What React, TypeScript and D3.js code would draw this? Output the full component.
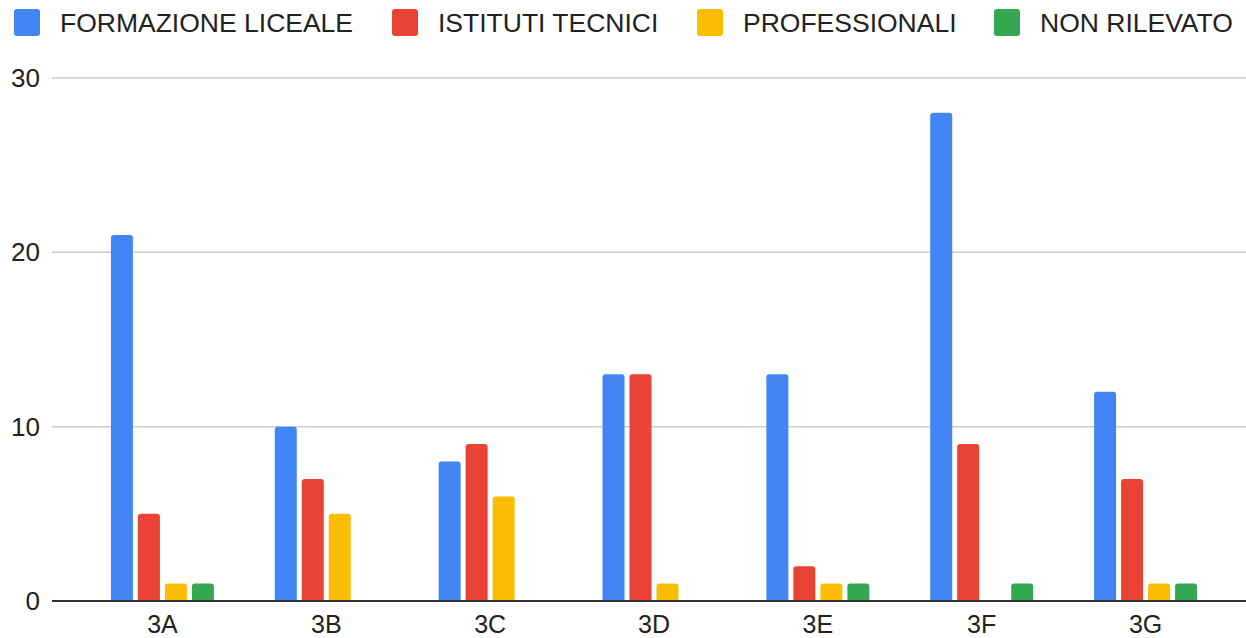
import { useMemo } from "react";
import * as d3 from "d3";

const WIDTH = 1246;
const HEIGHT = 638;

const categories = ["3A", "3B", "3C", "3D", "3E", "3F", "3G"];
const seriesNames = ["FORMAZIONE LICEALE", "ISTITUTI TECNICI", "PROFESSIONALI", "NON RILEVATO"];
const seriesColors = ["#4285F4", "#EA4335", "#FBBC04", "#34A853"];

const liceale = [21, 10, 8, 13, 13, 28, 12];
const tecnici = [5, 7, 9, 13, 2, 9, 7];
const professionali = [1, 5, 6, 1, 1, 0, 1];
const nonRilevato = [1, 0, 0, 0, 1, 1, 1];

const yTicks = [0, 10, 20, 30];

const FONT = "'Liberation Sans', Arial, sans-serif";
const LEGEND_X = [14, 392, 697, 994];

// bar path with rounded top corners
const barPath = (x: number, y: number, w: number, h: number, r: number) => {
  const rr = Math.min(r, h, w / 2);
  return `M${x},${y + h}V${y + rr}Q${x},${y} ${x + rr},${y}H${x + w - rr}Q${x + w},${y} ${x + w},${y + rr}V${y + h}Z`;
};

export default function App() {
  const series = [liceale, tecnici, professionali, nonRilevato];

  const xScale = useMemo(
    () => d3.scaleBand().domain(categories).range([80.5, 1227.5]),
    []
  );
  const subScale = useMemo(
    () => d3.scaleBand().domain(seriesNames).range([-51.5, 51.5]).paddingInner(5 / 27),
    []
  );
  const yScale = d3.scaleLinear().domain([0, 30]).range([601, 78]);

  const bars = categories.flatMap((cat, ci) =>
    series.map((vals, si) => {
      const v = vals[ci];
      if (!v) return null;
      const cx = (xScale(cat) ?? 0) + xScale.bandwidth() / 2;
      const x = cx + (subScale(seriesNames[si]) ?? 0);
      const y = yScale(v);
      return (
        <path
          key={cat + si}
          d={barPath(x, y, subScale.bandwidth(), yScale(0) - y, 3)}
          fill={seriesColors[si]}
        />
      );
    })
  );

  return (
    <svg
      width={WIDTH}
      height={HEIGHT}
      style={{ position: "absolute", left: 0, top: 0, background: "#fff" }}
      fontFamily={FONT}
    >
      {/* legend */}
      {seriesNames.map((name, i) => (
        <g key={name} transform={`translate(${LEGEND_X[i]},9)`}>
          <rect width={26} height={27} rx={3} fill={seriesColors[i]} />
          <text x={46} y={22.5} fontSize={26.5} fill="#222">
            {name}
          </text>
        </g>
      ))}

      {/* grid and y labels */}
      {yTicks.map((t) => (
        <g key={t}>
          {t !== 0 && (
            <line x1={52} x2={WIDTH} y1={yScale(t)} y2={yScale(t)} stroke="#ccc" strokeWidth={1.5} />
          )}
          <text x={40} y={yScale(t) + 9} textAnchor="end" fontSize={26} fill="#222">
            {t}
          </text>
        </g>
      ))}

      {bars}

      <line x1={52} x2={WIDTH} y1={yScale(0)} y2={yScale(0)} stroke="#333" strokeWidth={2} />

      {/* x labels */}
      {categories.map((c) => (
        <text
          key={c}
          x={(xScale(c) ?? 0) + xScale.bandwidth() / 2}
          y={633}
          textAnchor="middle"
          fontSize={25}
          fill="#222"
        >
          {c}
        </text>
      ))}
    </svg>
  );
}
